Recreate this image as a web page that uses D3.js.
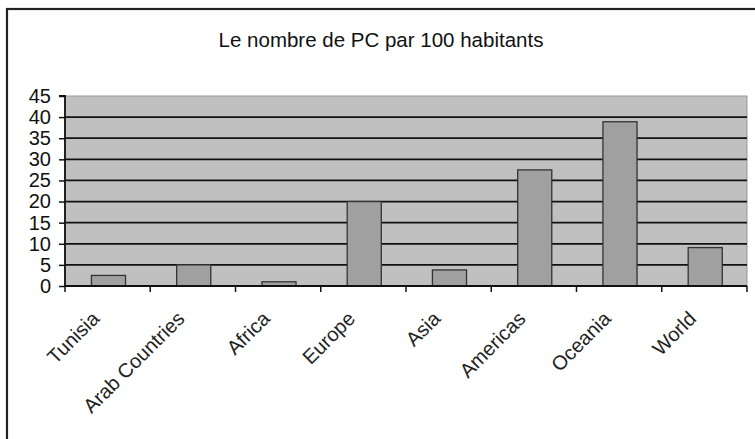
<!DOCTYPE html>
<html><head><meta charset="utf-8">
<script src="https://cdn.jsdelivr.net/npm/d3@7"></script>
<style>body{margin:0;background:#fff}svg{display:block}text{font-family:"Liberation Sans",Arial,sans-serif}</style>
</head><body><svg id="c" width="755" height="439"></svg>
<script>
const title = "Le nombre de PC par 100 habitants";
const categories = ["Tunisia","Arab Countries","Africa","Europe","Asia","Americas","Oceania","World"];
const values = [2.5, 5, 1, 20, 3.8, 27.5, 38.9, 9.1];
const yTicks = [0,5,10,15,20,25,30,35,40,45];

const svg = d3.select("#c");
const m = {l:65, r:747, t:96, b:286};
svg.append("rect").attr("x",7).attr("y",9).attr("width",760).attr("height",440)
  .attr("fill","#fff").attr("stroke","#222").attr("stroke-width",2.2);
svg.append("text").attr("x",381).attr("y",47).attr("text-anchor","middle")
  .attr("font-size",20.5).attr("fill","#111").text(title);

const xb = d3.scaleBand().domain(categories).range([m.l,m.r]);
const y = d3.scaleLinear().domain([0,45]).range([m.b,m.t]);

svg.append("rect").attr("x",m.l).attr("y",m.t).attr("width",m.r-m.l).attr("height",m.b-m.t)
  .attr("fill","#c0c0c0").attr("stroke","#999").attr("stroke-width",1);
svg.append("g").selectAll("line").data(yTicks.filter(d=>d>0 && d<45)).join("line")
  .attr("x1",m.l).attr("x2",m.r).attr("y1",d=>y(d)).attr("y2",d=>y(d))
  .attr("stroke","#111").attr("stroke-width",1.8);

svg.append("g").selectAll("rect").data(values).join("rect")
  .attr("x",(d,i)=>xb(categories[i])+xb.bandwidth()*0.31)
  .attr("width",xb.bandwidth()*0.4)
  .attr("y",d=>y(d)).attr("height",d=>y(0)-y(d))
  .attr("fill","#a0a0a0").attr("stroke","#333").attr("stroke-width",1.3);

const ya = svg.append("g").attr("transform",`translate(${m.l},0)`)
  .call(d3.axisLeft(y).tickValues(yTicks).tickSize(6).tickPadding(8));
ya.select(".domain").attr("stroke","#111").attr("stroke-width",1.8).attr("d",`M-6,${m.t}H0V${m.b}`);
ya.selectAll(".tick line").attr("stroke","#111").attr("stroke-width",1.5);
ya.selectAll("text").attr("font-size",20).attr("fill","#111").style("font-family","Liberation Sans, Arial");

const bounds = categories.map(c=>xb(c)).concat([m.r]);
svg.append("line").attr("x1",m.l).attr("x2",m.r).attr("y1",m.b).attr("y2",m.b).attr("stroke","#111").attr("stroke-width",1.8);
svg.append("g").selectAll("line").data(bounds).join("line")
  .attr("x1",d=>d).attr("x2",d=>d).attr("y1",m.b).attr("y2",m.b+6)
  .attr("stroke","#111").attr("stroke-width",1.5);

svg.append("g").selectAll("text").data(categories).join("text")
  .attr("transform",d=>`translate(${xb(d)+xb.bandwidth()/2-12},${m.b+29}) rotate(-45)`)
  .attr("text-anchor","end").attr("dy","0.35em").attr("font-size",20).attr("fill","#222").text(d=>d);
</script></body></html>
